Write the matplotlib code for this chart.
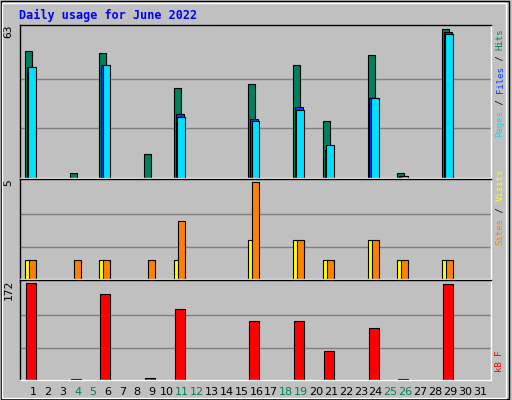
import numpy as np
import matplotlib
matplotlib.use("Agg")
import matplotlib.pyplot as plt

days = list(range(1, 32))
weekend = [4, 5, 11, 12, 18, 19, 25, 26]

hits = {1: 54, 4: 2, 6: 53, 9: 10, 11: 38, 16: 40, 19: 48, 21: 24, 24: 52, 26: 2, 29: 63}
files = {1: 47, 6: 48, 11: 27, 16: 25, 19: 30, 21: 12, 24: 34, 26: 1, 29: 62}
pages = {1: 47, 6: 48, 11: 26, 16: 24, 19: 29, 21: 14, 24: 34, 26: 1, 29: 61}
sites = {1: 1, 6: 1, 11: 1, 16: 2, 19: 2, 21: 1, 24: 2, 26: 1, 29: 1}
visits = {1: 1, 4: 1, 6: 1, 9: 1, 11: 3, 16: 5, 19: 2, 21: 1, 24: 2, 26: 1, 29: 1}
kbytes = {1: 172, 4: 1, 6: 153, 9: 4, 11: 125, 16: 105, 19: 105, 21: 52, 24: 92, 26: 1, 29: 170}

W, H = 512, 400
fig = plt.figure(figsize=(W / 100, H / 100), dpi=100)
fig.patch.set_facecolor("#C0C0C0")
mono = "DejaVu Sans Mono"

def px_axes(x0, y0, x1, y1):
    return fig.add_axes([x0 / W, 1 - y1 / H, (x1 - x0) / W, (y1 - y0) / H])

def bars(ax, data, offset, width, color):
    ds = list(data.keys())
    ax.bar([d + offset for d in ds], [data[d] for d in ds], width=width,
           align="edge", color=color, edgecolor="black", linewidth=0.8)

def style(ax, top, label):
    ax.set_facecolor("#C0C0C0")
    ax.set_xlim(0.13, 31.74)
    ax.set_ylim(0, top * 1.03)
    for f in (1 / 3, 2 / 3):
        ax.axhline(top * f, color="#808080", linewidth=1, zorder=0)
    ax.set_xticks([])
    ax.set_yticks([])
    for s in ax.spines.values():
        s.set_color("white")
        s.set_linewidth(1)
    ax.spines["top"].set_color("black")
    ax.spines["left"].set_color("black")
    ax.text(-0.025, 1.0, label, transform=ax.transAxes, rotation=90,
            ha="center", va="top", fontsize=8, family=mono)

ax1 = px_axes(20, 25, 491, 178)
ax2 = px_axes(20, 179, 491, 279)
ax3 = px_axes(20, 280, 491, 380)

bars(ax1, hits, -0.54, 0.47, "#00805C")
bars(ax1, files, -0.42, 0.55, "#0040FF")
bars(ax1, pages, -0.33, 0.53, "#00E0FF")
style(ax1, 63, "63")

bars(ax2, sites, -0.54, 0.38, "#FFFF00")
bars(ax2, visits, -0.27, 0.47, "#FF8000")
style(ax2, 5, "5")

bars(ax3, kbytes, -0.47, 0.67, "#FF0000")
style(ax3, 172, "172")

for d in days:
    ax3.text(d, -0.12, str(d), transform=ax3.get_xaxis_transform(),
             ha="center", va="center", fontsize=8,
             color="#00805C" if d in weekend else "black")

# right-hand legends, stacked bottom to top
def vlegend(parts, y_bottom):
    y = y_bottom
    for txt, col in parts:
        fig.text(500 / W, 1 - y / H, txt, rotation=90, ha="center", va="bottom",
                 fontsize=6.5, family=mono, color=col)
        y -= 5.45 * len(txt)

vlegend([("Pages", "#00E0FF"), (" / ", "black"), ("Files", "#0040FF"),
         (" / ", "black"), ("Hits", "#00805C")], 137)
vlegend([("Sites", "#FF8000"), (" / ", "black"), ("Visits", "#FFFF00")], 245)
vlegend([("kB F", "#FF0000")], 372)

fig.text(19 / W, 1 - 15 / H, "Daily usage for June 2022", fontsize=8.5,
         family=mono, weight="bold", color="#0000FF", va="center")

# outer frame
fig.add_artist(plt.Rectangle((0.002, 0.003), 0.992, 0.994, transform=fig.transFigure,
                             fill=False, edgecolor="black", linewidth=1))
fig.add_artist(plt.Rectangle((0.004, 0.006), 0.984, 0.986, transform=fig.transFigure,
                             fill=False, edgecolor="white", linewidth=1))

fig.savefig("out.png", dpi=100, facecolor=fig.get_facecolor())
